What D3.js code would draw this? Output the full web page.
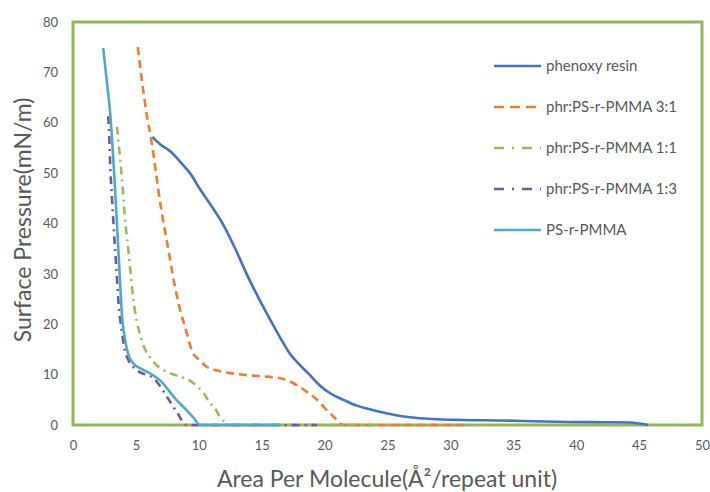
<!DOCTYPE html>
<html>
<head>
<meta charset="utf-8">
<script src="https://cdn.jsdelivr.net/npm/d3@7"></script>
<style>
  body { margin: 0; background: #fff; }
  svg text { font-family: Lato, "Open Sans", sans-serif; fill: #595959; }
</style>
</head>
<body>
<div id="chart"></div>
<script>
// isotherm data: [area, pressure]
const phenoxy = [[6.3,57.2],[6.9,55.8],[7.8,54.2],[8.5,52.3],[9.3,50],[10.1,46.8],[11.0,43.5],[12.0,39.5],[12.9,35],[13.8,30],[14.8,25],[15.7,20.8],[16.5,17.2],[17.2,14.3],[18.0,12],[18.8,10],[19.6,7.9],[20.5,6.2],[21.5,5.0],[22.5,3.9],[23.8,3.0],[25,2.3],[26,1.8],[28.6,1.2],[31,1.0],[33.9,0.9],[36.5,0.75],[39.3,0.6],[42,0.55],[44.3,0.5],[45,0.3],[45.7,0]];
const blend31 = [[5.15,75],[5.5,68],[5.9,61],[6.2,57],[6.6,50],[7.0,43],[7.5,36],[8.1,27.5],[8.5,23],[8.9,19.5],[9.5,14.5],[10.1,12.8],[10.6,11.6],[11.5,10.8],[12.5,10.3],[13.8,9.9],[15.4,9.6],[16.2,9.4],[17.0,8.9],[18.0,7.6],[18.7,6.4],[19.4,5],[20.0,3.4],[20.7,1.7],[21.5,0],[31.5,0]];
const blend11 = [[3.5,59.2],[3.7,54],[3.9,48.6],[4.05,43.7],[4.2,39.3],[4.4,34.7],[4.6,29.5],[4.8,24.8],[5.3,18.2],[5.7,15.2],[6.1,13.5],[6.6,12],[7.2,10.9],[8.5,9.6],[9.3,8.8],[9.9,7.6],[10.4,6.3],[10.9,4.3],[11.2,3.6],[11.7,1.6],[12.5,0],[24,0]];
const blend13 = [[2.8,61.3],[2.9,56],[2.95,52],[3.1,45],[3.2,40.7],[3.35,34.7],[3.5,29],[3.6,24.8],[3.75,21],[3.9,18.2],[4.1,15],[4.4,12.9],[4.8,11.5],[5.3,10.5],[5.9,9.9],[6.4,9.3],[6.9,7.8],[7.3,6.3],[7.8,4.3],[8.3,2.4],[9.0,0],[19.4,0]];
const copolymer = [[2.4,74.8],[2.7,68],[2.95,62],[3.15,55],[3.3,48.6],[3.45,42],[3.6,35],[3.75,28],[3.9,21.5],[4.1,17.5],[4.3,14.9],[4.8,12.2],[5.4,11.2],[6.1,10.3],[6.9,8.9],[7.5,7.2],[8.0,5.6],[9.0,3],[9.6,1.4],[10.1,0],[16.5,0]];

const seriesNames = ["phenoxy resin", "phr:PS-r-PMMA 3:1", "phr:PS-r-PMMA 1:1", "phr:PS-r-PMMA 1:3", "PS-r-PMMA"];
const seriesData = [phenoxy, blend31, blend11, blend13, copolymer];
const seriesColors = ["#4472C4", "#ED7D31", "#9BBB59", "#7A559E", "#4BACC6"];
const seriesDash = [null, "8,5", "8,5,2,5", "8,5,2,5", null];

const xTicks = [0, 5, 10, 15, 20, 25, 30, 35, 40, 45, 50];
const yTicks = [0, 10, 20, 30, 40, 50, 60, 70, 80];

const W = 710, H = 492;
const m = { left: 73, right: 8, top: 22, bottom: 67 };

const svg = d3.select("#chart").append("svg")
    .attr("width", W).attr("height", H);

const x = d3.scaleLinear().domain([0, 50]).range([m.left, W - m.right]);
const y = d3.scaleLinear().domain([0, 80]).range([H - m.bottom, m.top]);

// plot area border
svg.append("rect")
    .attr("x", x(0)).attr("y", y(80))
    .attr("width", x(50) - x(0)).attr("height", y(0) - y(80))
    .attr("fill", "none")
    .attr("stroke", "#93B657")
    .attr("stroke-width", 3);

// tick labels
const xAxis = svg.append("g")
    .attr("transform", `translate(0,${y(0)})`)
    .call(d3.axisBottom(x).tickValues(xTicks).tickSize(0).tickPadding(16));
const yAxis = svg.append("g")
    .attr("transform", `translate(${x(0)},0)`)
    .call(d3.axisLeft(y).tickValues(yTicks).tickSize(0).tickPadding(15));
[xAxis, yAxis].forEach(a => {
    a.select(".domain").remove();
    a.selectAll("text").style("font-size", "13px").attr("fill", "#595959");
});

// curves (monotone so the flat tails don't dip below zero)
const line = d3.line()
    .x(d => x(d[0])).y(d => y(d[1]))
    .curve(d3.curveMonotoneX);

seriesData.forEach((data, i) => {
    svg.append("path")
        .datum(data)
        .attr("d", line)
        .attr("fill", "none")
        .attr("stroke", seriesColors[i])
        .attr("stroke-width", 2.6)
        .attr("stroke-dasharray", seriesDash[i]);
});

// legend
const legend = svg.append("g");
seriesNames.forEach((name, i) => {
    const ly = 66 + i * 41;
    legend.append("line")
        .attr("x1", 494).attr("x2", 541)
        .attr("y1", ly).attr("y2", ly)
        .attr("stroke", seriesColors[i])
        .attr("stroke-width", 2.6)
        .attr("stroke-dasharray", seriesDash[i] ? (i === 1 ? "10,6" : "10,8,2,8") : null);
    legend.append("text")
        .attr("x", 546).attr("y", ly)
        .attr("dy", "0.35em")
        .style("font-size", "15px")
        .text(name);
});

// axis titles
svg.append("text")
    .attr("x", 387).attr("y", 487)
    .attr("text-anchor", "middle")
    .style("font-size", "23px")
    .text("Area Per Molecule(Å²/repeat unit)");

svg.append("text")
    .attr("transform", "translate(31,220) rotate(-90)")
    .attr("text-anchor", "middle")
    .style("font-size", "23px")
    .text("Surface Pressure(mN/m)");
</script>
</body>
</html>
